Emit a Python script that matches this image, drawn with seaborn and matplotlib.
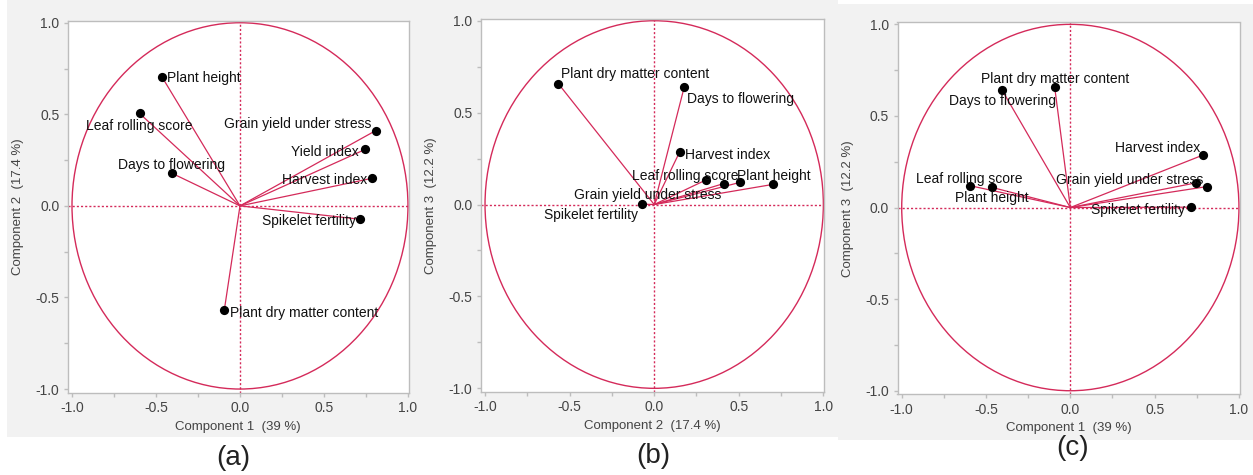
import matplotlib
matplotlib.use("Agg")
import matplotlib.pyplot as plt
from matplotlib.patches import Circle, Rectangle
from matplotlib.ticker import MultipleLocator, FormatStrFormatter
import seaborn as sns
import pandas as pd

# ---------------- data ----------------
variables = ["Plant height", "Leaf rolling score", "Days to flowering",
             "Grain yield under stress", "Yield index", "Harvest index",
             "Spikelet fertility", "Plant dry matter content"]
comp1 = [-0.465, -0.598, -0.405, 0.808, 0.747, 0.788, 0.715, -0.093]
comp2 = [0.705, 0.505, 0.178, 0.411, 0.309, 0.151, -0.073, -0.567]
comp3 = [0.110, 0.120, 0.641, 0.114, 0.135, 0.287, 0.002, 0.658]
axis_labels = {"c1": "Component 1  (39 %)",
               "c2": "Component 2  (17.4 %)",
               "c3": "Component 3  (12.2 %)"}
panel_tags = ["(a)", "(b)", "(c)"]
ticks = [-1.0, -0.5, 0.0, 0.5, 1.0]

df = pd.DataFrame({"var": variables, "c1": comp1, "c2": comp2, "c3": comp3})

# ---------------- style ----------------
sns.set_theme(style="white")
plt.rcParams["font.family"] = ["Liberation Sans", "DejaVu Sans"]

W, H = 1253, 475
fig = plt.figure(figsize=(W / 100, H / 100), dpi=100)
fig.patch.set_facecolor("white")

RED = "#d42a5a"
GRID = "#bdbdbd"

# label placement: (dx, dy in points, ha) per panel
offsets = [
    {"Plant height": (4, -1, "left"), "Leaf rolling score": (0, -9, "center"),
     "Days to flowering": (0, 6, "center"), "Grain yield under stress": (-3, 5, "right"),
     "Yield index": (-5, -2, "right"), "Harvest index": (-4, -1, "right"),
     "Spikelet fertility": (-3, -1, "right"), "Plant dry matter content": (4, -2, "left")},
    {"Plant dry matter content": (2, 7, "left"), "Days to flowering": (2, -9, "left"),
     "Harvest index": (4, -2, "left"), "Leaf rolling score": (-1, 5, "right"),
     "Plant height": (0, 6, "center"), "Grain yield under stress": (-2, -8, "right"),
     "Spikelet fertility": (-3, -8, "right")},
    {"Plant dry matter content": (0, 6, "center"), "Days to flowering": (0, -8, "center"),
     "Harvest index": (-2, 5, "right"), "Grain yield under stress": (-2, 5, "right"),
     "Spikelet fertility": (-4, -2, "right"), "Leaf rolling score": (0, 5, "center"),
     "Plant height": (0, -8, "center")},
]

panels = [("c1", "c2"), ("c2", "c3"), ("c1", "c3")]
# axes boxes in pixels: left, right, top, bottom
boxes = [(67.8, 408.8, 20.9, 392.7), (480.8, 824.2, 18.9, 392.0), (897.5, 1239.8, 22.5, 394.4)]
bg = [(7, 421, 0, 437), (421, 838, 0, 437), (838, 1253, 4, 440)]
tag_pos = [(233, 458), (653, 456), (1073, 448)]

for (x0, x1, y0, y1) in bg:
    fig.add_artist(Rectangle((x0 / W, 1 - y1 / H), (x1 - x0) / W, (y1 - y0) / H,
                             transform=fig.transFigure, facecolor="#f2f2f2",
                             edgecolor="none", zorder=-5))

for i, ((xc, yc), (l, r, t, b)) in enumerate(zip(panels, boxes)):
    ax = fig.add_axes([l / W, 1 - b / H, (r - l) / W, (b - t) / H])
    ax.set_facecolor("white")
    ax.set_xlim(-1.025, 1.005)
    ax.set_ylim(-1.02, 1.01)

    ax.add_patch(Circle((0, 0), 1.0, fill=False, edgecolor=RED, lw=1.0, zorder=1))
    ax.axhline(0, color=RED, lw=1.0, ls=(0, (1.5, 1.5)), zorder=1)
    ax.axvline(0, color=RED, lw=1.0, ls=(0, (1.5, 1.5)), zorder=1)

    for _, row in df.iterrows():
        ax.plot([0, row[xc]], [0, row[yc]], color=RED, lw=0.9, zorder=2)
    sns.scatterplot(data=df, x=xc, y=yc, ax=ax, color="black", s=44,
                    edgecolor="black", linewidth=0, zorder=3, legend=False)

    for _, row in df.iterrows():
        if row["var"] not in offsets[i]:
            continue
        dx, dy, ha = offsets[i][row["var"]]
        ax.annotate(row["var"], (row[xc], row[yc]), xytext=(dx, dy),
                    textcoords="offset points", ha=ha, va="center",
                    fontsize=10, color="#111111", zorder=4)

    ax.set_xticks(ticks)
    ax.set_yticks(ticks)
    ax.xaxis.set_minor_locator(MultipleLocator(0.25))
    ax.yaxis.set_minor_locator(MultipleLocator(0.25))
    ax.xaxis.set_major_formatter(FormatStrFormatter("%.1f"))
    ax.yaxis.set_major_formatter(FormatStrFormatter("%.1f"))
    ax.tick_params(which="both", direction="out", color=GRID, length=3, width=1,
                   labelsize=10, labelcolor="#444444", pad=3,
                   bottom=True, left=True)
    for s in ax.spines.values():
        s.set_color(GRID)
        s.set_linewidth(1.0)
    ax.set_xlabel(axis_labels[xc], fontsize=9.5, color="#444444", labelpad=4)
    ax.set_ylabel(axis_labels[yc], fontsize=9.5, color="#444444", labelpad=8)

    tx, ty = tag_pos[i]
    fig.text(tx / W, 1 - ty / H, panel_tags[i], ha="center", va="center",
             fontsize=20, color="#222222")

fig.savefig("out.png", dpi=100, facecolor=fig.get_facecolor())
